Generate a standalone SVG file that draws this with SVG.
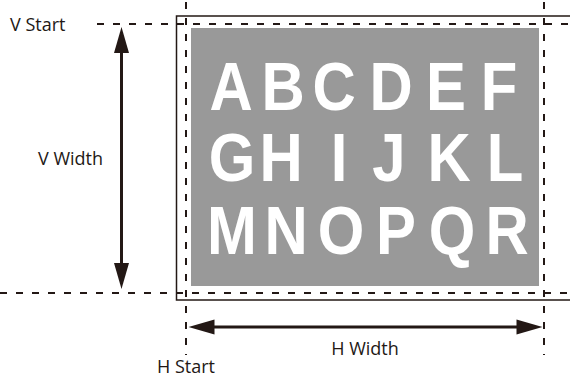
<svg xmlns="http://www.w3.org/2000/svg" width="570" height="378" viewBox="0 0 570 378">
<style>
.dash{stroke:#231815;stroke-width:2;stroke-dasharray:7 9;fill:none}
.frame{stroke:#231815;stroke-width:1.5;fill:none}
.shaft{stroke:#231815;stroke-width:3;fill:none}
.head{fill:#231815}
.lbl{font-family:"Open Sans","Liberation Sans",sans-serif;font-size:18px;fill:#231815}
.let{font-family:"Liberation Sans",Arial,sans-serif;font-weight:bold;font-size:68px;fill:#ffffff;text-anchor:middle}
</style>
<rect width="570" height="378" fill="#ffffff"/>
<g id="frame">
<rect class="frame" x="176.5" y="16" width="400" height="284"/>
</g>
<g id="image">
<rect x="191" y="28" width="348" height="258" fill="#999999"/>
<text class="let" transform="translate(231,110) scale(0.88,1)">A</text>
<text class="let" transform="translate(283,110) scale(0.88,1)">B</text>
<text class="let" transform="translate(334,110) scale(0.88,1)">C</text>
<text class="let" transform="translate(391,110) scale(0.88,1)">D</text>
<text class="let" transform="translate(446,110) scale(0.88,1)">E</text>
<text class="let" transform="translate(499,110) scale(0.88,1)">F</text>
<text class="let" transform="translate(232,181) scale(0.88,1)">G</text>
<text class="let" transform="translate(281,181) scale(0.88,1)">H</text>
<text class="let" transform="translate(339,181) scale(0.88,1)">I</text>
<text class="let" transform="translate(389,181) scale(0.88,1)">J</text>
<text class="let" transform="translate(449,181) scale(0.88,1)">K</text>
<text class="let" transform="translate(505,181) scale(0.88,1)">L</text>
<text class="let" transform="translate(232,254) scale(0.88,1)">M</text>
<text class="let" transform="translate(286,254) scale(0.88,1)">N</text>
<text class="let" transform="translate(341,254) scale(0.88,1)">O</text>
<text class="let" transform="translate(396,254) scale(0.88,1)">P</text>
<text class="let" transform="translate(452,254) scale(0.88,1)">Q</text>
<text class="let" transform="translate(507,254) scale(0.88,1)">R</text>
</g>
<g id="connectors">
<line class="dash" x1="97" y1="24" x2="570" y2="24"/>
<line class="dash" x1="0" y1="293" x2="570" y2="293"/>
<line class="dash" x1="186" y1="2" x2="186" y2="355"/>
<line class="dash" x1="544" y1="2" x2="544" y2="355"/>
<line class="shaft" x1="121.5" y1="48" x2="121.5" y2="266"/>
<polygon class="head" points="121.5,27 114,53 129,53"/>
<polygon class="head" points="121.5,289 114,263 129,263"/>
<line class="shaft" x1="212" y1="327" x2="518" y2="327"/>
<polygon class="head" points="188.5,327 214.5,319.5 214.5,334.5"/>
<polygon class="head" points="542.5,327 516.5,319.5 516.5,334.5"/>
</g>
<g id="labels">
<text class="lbl" x="10" y="31">V Start</text>
<text class="lbl" x="38" y="165">V Width</text>
<text class="lbl" x="365" y="355" text-anchor="middle">H Width</text>
<text class="lbl" x="157" y="373">H Start</text>
</g>
</svg>
